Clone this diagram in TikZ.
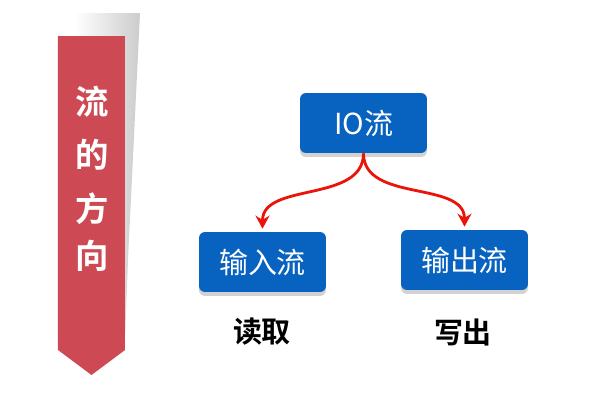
\documentclass[tikz,border=0pt]{standalone}
\usepackage{fontspec}
\setmainfont{Noto Sans CJK SC}[BoldFont={Noto Sans CJK SC Bold}]
\usetikzlibrary{arrows.meta, shadows}

\definecolor{bannerred}{RGB}{205,74,84}
\definecolor{boxblue}{RGB}{8,98,192}
\definecolor{arrowred}{RGB}{235,20,10}

\tikzset{
  streambox/.style={draw=none, fill=boxblue, rounded corners=0.12cm,
    minimum width=2.54cm, minimum height=1.2cm, text=white,
    font=\fontsize{16.5}{16.5}\selectfont,
    drop shadow={shadow xshift=0cm, shadow yshift=-0.08cm, fill=gray!35, opacity=1}},
  bannertext/.style={text=white, font=\bfseries\fontsize{19}{19}\selectfont},
  notetext/.style={font=\bfseries\fontsize{16.5}{16.5}\selectfont},
  flowarrow/.style={draw=arrowred, line width=1.6pt,
    -{Stealth[length=0.26cm, width=0.28cm]}, shorten >=0.06cm}
}

\begin{document}
\begin{tikzpicture}[x=0.02cm, y=-0.02cm]
    \useasboundingbox (0,0) rectangle (600,400);

    % --- 1. 左側的標題條與陰影 ---
    \shade[left color=white, right color=gray!40]
      (75,13) -- (140,13) -- (128,260) -- (125,340) -- (75,340) -- cycle;
    \fill[bannerred] (58,36) -- (125,36) -- (125,350) -- (91.5,375) -- (58,350) -- cycle;

    % --- 2. 豎排文字 ---
    \node[bannertext] (liu) at (92,102) {流};
    \node[bannertext] (de) at (92,155) {的};
    \node[bannertext] (fang) at (92,209) {方};
    \node[bannertext] (xiang) at (92,256) {向};

    % --- 3. 三個流的方框 ---
    \node[streambox] (io) at (363.5,123) {IO流};
    \node[streambox] (instream) at (262.5,262) {输入流};
    \node[streambox] (outstream) at (464.5,260) {输出流};

    % --- 4. 分叉的紅色箭頭 ---
    \draw[flowarrow] (io.south) to[out=-90, in=90] (instream.north);
    \draw[flowarrow] (io.south) to[out=-90, in=90] (outstream.north);

    % --- 5. 下方的說明 ---
    \node[notetext] (read) at (262,332) {读取};
    \node[notetext] (write) at (463,332) {写出};
  \end{tikzpicture}
\end{document}
